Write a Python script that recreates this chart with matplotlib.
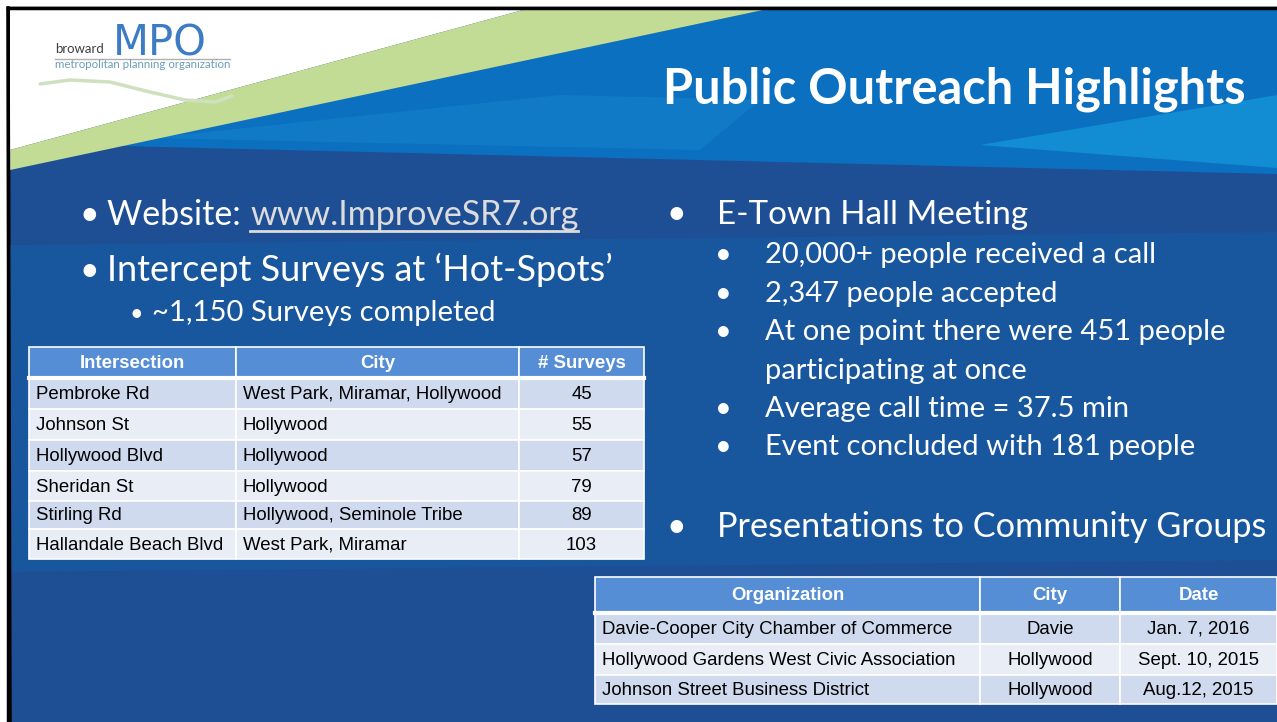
import matplotlib
matplotlib.use("Agg")
import matplotlib.pyplot as plt
from matplotlib.patches import Polygon, Rectangle

# slide text
title = "Public Outreach Highlights"
left_bullets = ["Website: ", "Intercept Surveys at \u2018Hot-Spots\u2019"]
website_url = "www.ImproveSR7.org"
left_sub = "~1,150 Surveys completed"
etown_head = "E-Town Hall Meeting"
etown_items = [
    "20,000+ people received a call",
    "2,347 people accepted",
    "At one point there were 451 people",
    "participating at once",
    "Average call time = 37.5 min",
    "Event concluded with 181 people",
]
etown_has_bullet = [True, True, True, False, True, True]
pres_head = "Presentations to Community Groups"

# survey table
survey_cols = ["Intersection", "City", "# Surveys"]
intersections = ["Pembroke Rd", "Johnson St", "Hollywood Blvd", "Sheridan St",
                 "Stirling Rd", "Hallandale Beach Blvd"]
survey_cities = ["West Park, Miramar, Hollywood", "Hollywood", "Hollywood",
                 "Hollywood", "Hollywood, Seminole Tribe", "West Park, Miramar"]
survey_counts = [45, 55, 57, 79, 89, 103]

# presentations table
org_cols = ["Organization", "City", "Date"]
organizations = ["Davie-Cooper City Chamber of Commerce",
                 "Hollywood Gardens West Civic Association",
                 "Johnson Street Business District"]
org_cities = ["Davie", "Hollywood", "Hollywood"]
org_dates = ["Jan. 7, 2016", "Sept. 10, 2015", "Aug.12, 2015"]

W, H = 1277, 722
fig = plt.figure(figsize=(W / 100, H / 100), dpi=100)
ax = fig.add_axes([0, 0, 1, 1])
ax.set_xlim(0, W)
ax.set_ylim(H, 0)
ax.axis("off")
fig.patch.set_facecolor("white")
renderer = fig.canvas.get_renderer()

body_font = "Lato"
table_font = "Liberation Sans"


def fit(x, y, s, width, **kw):
    t = ax.text(x, y, s, **kw)
    bb = t.get_window_extent(renderer)
    t.set_fontsize(t.get_fontsize() * width / bb.width)
    return t


# background
ax.add_patch(Rectangle((8, 8), W, H, facecolor="#1e4f95", edgecolor="black", lw=2.5, zorder=0))
ax.add_patch(Polygon([(10, 245), (W, 232), (W, 560), (10, 572)], closed=True,
                     facecolor="#18569d", edgecolor="none", zorder=0.5))
# header blues
ax.add_patch(Polygon([(120, 146), (763, 10), (W, 10), (W, 174)], closed=True,
                     facecolor="#0b70c0", edgecolor="none", zorder=1))
ax.add_patch(Polygon([(150, 138), (560, 95), (760, 100), (700, 150)], closed=True,
                     facecolor="#1585cf", edgecolor="none", alpha=0.5, zorder=1.1))
ax.add_patch(Polygon([(980, 145), (W, 95), (W, 168)], closed=True,
                     facecolor="#1599db", edgecolor="none", alpha=0.7, zorder=1.1))
# white corner and green stripe
ax.add_patch(Polygon([(10, 10), (523, 10), (10, 150)], closed=True,
                     facecolor="white", edgecolor="none", zorder=2))
ax.add_patch(Polygon([(10, 150), (523, 10), (763, 10), (10, 170)], closed=True,
                     facecolor="#c3dc95", edgecolor="none", zorder=2))
ax.plot([10, 8, 8], [H, 8, 8], color="black", lw=2.5, zorder=3)
ax.plot([8, W], [8, 8], color="black", lw=2.5, zorder=3)

# logo
fit(55, 53, "broward", 49, fontsize=9, color="#404040", family=body_font,
    va="baseline", zorder=4)
ax.text(113, 55, "MPO", fontsize=30, color="#3d7cc4", family="DejaVu Sans",
        va="baseline", zorder=4)
ax.plot([55, 230], [58.5, 58.5], color="#b0b0b0", lw=1, zorder=4)
fit(55, 68, "metropolitan planning organization", 175, fontsize=7, color="#6b9db8",
    family=body_font, va="baseline", zorder=4)
ax.plot([40, 70, 110, 150, 185, 215, 232], [84, 80, 82, 92, 100, 102, 96],
        color="#cfe0bf", lw=2.5, solid_capstyle="round", zorder=4)

# title
fit(663, 103, title, 582, fontsize=30, color="white", family=body_font,
    weight="bold", va="baseline", zorder=5)

# left bullets
txt_kw = dict(color="white", family=body_font, va="baseline", zorder=5)
t = fit(107, 225, left_bullets[0] + website_url, 471, fontsize=22, **txt_kw)
size1 = t.get_fontsize()
t.set_text(left_bullets[0])
ax.text(250, 225, website_url, fontsize=size1, color="#dcdcdc", family=body_font,
        va="baseline", zorder=5)
ax.plot([250, 578], [231, 231], color="#dcdcdc", lw=2, zorder=5)
ax.text(89, 225, "\u2022", fontsize=size1, ha="center", **txt_kw)
fit(107, 281, left_bullets[1], 506, fontsize=22, **txt_kw)
ax.text(89, 281, "\u2022", fontsize=size1, ha="center", **txt_kw)
t = fit(152, 321, left_sub, 343, fontsize=18, **txt_kw)
ax.text(136, 321, "\u2022", fontsize=t.get_fontsize() * 0.8, ha="center", **txt_kw)

# right bullets
fit(717, 224, etown_head, 310, fontsize=22, **txt_kw)
ax.text(676, 224, "\u2022", fontsize=size1, ha="center", **txt_kw)
t = fit(765, 263, etown_items[0], 390, fontsize=18, **txt_kw)
size2 = t.get_fontsize()
item_y = [263, 302, 340, 379, 417, 455]
for i, s in enumerate(etown_items):
    if i > 0:
        ax.text(765, item_y[i], s, fontsize=size2, **txt_kw)
    if etown_has_bullet[i]:
        ax.text(723, item_y[i], "\u2022", fontsize=size2, ha="center", **txt_kw)
fit(717, 537, pres_head, 548, fontsize=22, **txt_kw)
ax.text(676, 537, "\u2022", fontsize=size1, ha="center", **txt_kw)

# tables
head_color = "#558ed5"
row_colors = ["#cfdaee", "#e9edf6"]


def draw_table(col_x, row_y, header, columns, aligns, pads, fsize):
    nrows = len(row_y) - 1
    for r in range(nrows):
        for c in range(len(col_x) - 1):
            x0, x1 = col_x[c], col_x[c + 1]
            y0, y1 = row_y[r], row_y[r + 1]
            fc = head_color if r == 0 else row_colors[(r - 1) % 2]
            ax.add_patch(Rectangle((x0, y0), x1 - x0, y1 - y0, facecolor=fc,
                                   edgecolor="white", lw=1.2, zorder=6))
            if r == 0:
                s, col, wt, ha, tx = header[c], "white", "bold", "center", (x0 + x1) / 2
            else:
                s, col, wt = str(columns[c][r - 1]), "black", "normal"
                ha = aligns[c]
                tx = x0 + pads if ha == "left" else (x0 + x1) / 2
            ax.text(tx, (y0 + y1) / 2 + 1, s, fontsize=fsize, color=col, weight=wt,
                    family=table_font, ha=ha, va="center", zorder=7)
    ax.plot([col_x[0], col_x[-1]], [row_y[1], row_y[1]], color="white", lw=3, zorder=6.5)


probe = fit(0, -100, survey_cities[0], 259, fontsize=13, family=table_font)
tsize = probe.get_fontsize()
probe.remove()

draw_table([29, 236, 519, 644], [347, 378, 409, 440, 471, 501, 529, 559],
           survey_cols, [intersections, survey_cities, survey_counts],
           ["left", "left", "center"], 7, tsize)
draw_table([595, 980, 1120, 1277], [577, 613, 644, 675, 704],
           org_cols, [organizations, org_cities, org_dates],
           ["left", "center", "center"], 7, tsize)

fig.savefig("out.png", dpi=100)
